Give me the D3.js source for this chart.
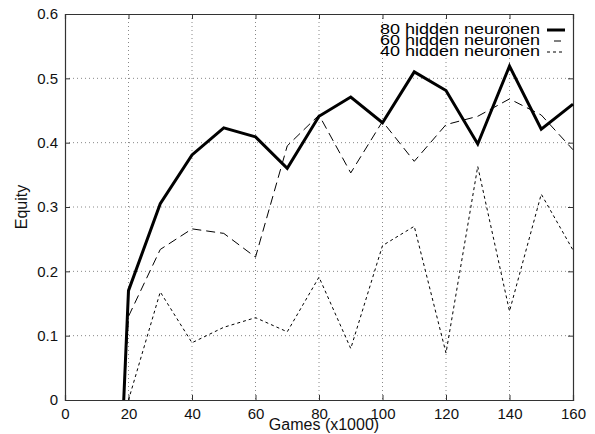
<!DOCTYPE html>
<html>
<head>
<meta charset="utf-8">
<script src="https://cdn.jsdelivr.net/npm/d3@7"></script>
<style>
  body { margin: 0; background: #fff; }
  svg { display: block; font-family: 'Liberation Sans', Arial, sans-serif; }
</style>
</head>
<body>
<div id="wrapper"></div>
<script>
// games (x1000) for each series
const games80 = [18.5, 20, 30, 40, 50, 60, 70, 80, 90, 100, 110, 120, 130, 140, 150, 160]
const games60 = [18.5, 20, 30, 40, 50, 60, 70, 80, 90, 100, 110, 120, 130, 140, 150, 160]
const games40 = [20, 30, 40, 50, 60, 70, 80, 90, 100, 110, 120, 130, 140, 150, 160]

// equity values
const equity80 = [0, 0.17, 0.305, 0.381, 0.423, 0.409, 0.36, 0.441, 0.471, 0.431, 0.51, 0.481, 0.398, 0.519, 0.421, 0.46]
const equity60 = [0, 0.13, 0.234, 0.266, 0.259, 0.222, 0.395, 0.443, 0.353, 0.433, 0.371, 0.428, 0.441, 0.468, 0.443, 0.389]
const equity40 = [0, 0.168, 0.089, 0.113, 0.128, 0.106, 0.191, 0.08, 0.24, 0.27, 0.073, 0.363, 0.138, 0.32, 0.233]

const xTicks = [0, 20, 40, 60, 80, 100, 120, 140, 160]
const yTicks = [0, 0.1, 0.2, 0.3, 0.4, 0.5, 0.6]
const legendLabels = ['80 hidden neuronen', '60 hidden neuronen', '40 hidden neuronen']

let dimensions = {
  width: 595,
  height: 434,
  margin: { top: 14, right: 22, bottom: 34, left: 65 },
}
dimensions.boundedWidth = dimensions.width - dimensions.margin.left - dimensions.margin.right
dimensions.boundedHeight = dimensions.height - dimensions.margin.top - dimensions.margin.bottom

const series = [
  { label: legendLabels[0], x: games80, y: equity80, width: 3, dash: null },
  { label: legendLabels[1], x: games60, y: equity60, width: 1, dash: '9,5' },
  { label: legendLabels[2], x: games40, y: equity40, width: 1, dash: '3,3' },
]

const svg = d3.select('#wrapper')
  .append('svg')
  .attr('width', dimensions.width)
  .attr('height', dimensions.height)

const bounds = svg.append('g')
  .attr('transform', `translate(${dimensions.margin.left},${dimensions.margin.top})`)

const xScale = d3.scaleLinear().domain([0, 160]).range([0, dimensions.boundedWidth])
const yScale = d3.scaleLinear().domain([0, 0.6]).range([dimensions.boundedHeight, 0])

// dotted grid
bounds.append('g')
  .selectAll('line')
  .data(xTicks.slice(1, -1))
  .join('line')
  .attr('x1', (d) => xScale(d)).attr('x2', (d) => xScale(d))
  .attr('y1', 0).attr('y2', dimensions.boundedHeight)
  .attr('stroke', '#888').attr('stroke-width', 1).attr('stroke-dasharray', '1,3')

bounds.append('g')
  .selectAll('line')
  .data(yTicks.slice(1, -1))
  .join('line')
  .attr('y1', (d) => yScale(d)).attr('y2', (d) => yScale(d))
  .attr('x1', 0).attr('x2', dimensions.boundedWidth)
  .attr('stroke', '#888').attr('stroke-width', 1).attr('stroke-dasharray', '1,3')

// axes with inward ticks on all four sides
const tickLen = 5
bounds.append('g')
  .attr('transform', `translate(0,${dimensions.boundedHeight})`)
  .call(d3.axisBottom(xScale).tickValues(xTicks).tickSize(-tickLen).tickPadding(tickLen + 3).tickFormat(d3.format('d')))
bounds.append('g')
  .call(d3.axisTop(xScale).tickValues(xTicks).tickSize(-tickLen).tickFormat(''))
bounds.append('g')
  .call(d3.axisLeft(yScale).tickValues(yTicks).tickSize(-tickLen).tickPadding(tickLen + 2).tickFormat((d) => (d === 0 ? '0' : d3.format('.1f')(d))))
bounds.append('g')
  .attr('transform', `translate(${dimensions.boundedWidth},0)`)
  .call(d3.axisRight(yScale).tickValues(yTicks).tickSize(-tickLen).tickFormat(''))

bounds.selectAll('.domain').attr('stroke', '#333').attr('stroke-width', 1.2)
bounds.selectAll('.tick line').attr('stroke', '#333')
bounds.selectAll('.tick text')
  .attr('font-family', "'Liberation Sans', Arial, sans-serif")
  .attr('font-size', 15)
  .attr('fill', '#111')

// lines
const lineGen = d3.line()
  .x((d) => xScale(d[0]))
  .y((d) => yScale(d[1]))

bounds.append('g')
  .selectAll('path')
  .data(series)
  .join('path')
  .attr('d', (s) => lineGen(s.x.map((g, i) => [g, s.y[i]])))
  .attr('fill', 'none')
  .attr('stroke', '#000')
  .attr('stroke-width', (s) => s.width)
  .attr('stroke-dasharray', (s) => s.dash)
  .attr('stroke-linejoin', 'miter')

// legend (rows sit tight, as in the original)
const legend = svg.append('g').attr('class', 'legend')
const legendRight = 540
const legendRows = legend.selectAll('g')
  .data(series)
  .join('g')
  .attr('transform', (d, i) => `translate(0,${34 + i * 11})`)

legendRows.append('text')
  .attr('x', legendRight)
  .attr('text-anchor', 'end')
  .attr('font-size', 15)
  .attr('fill', '#000')
  .attr('textLength', 160)
  .attr('lengthAdjust', 'spacingAndGlyphs')
  .text((d) => d.label)

legendRows.append('line')
  .attr('x1', (d, i) => (i === 1 ? 554 : 547))
  .attr('x2', (d, i) => (i === 1 ? 561 : 565))
  .attr('y1', -4).attr('y2', -4)
  .attr('stroke', '#000')
  .attr('stroke-width', (d) => d.width)
  .attr('stroke-dasharray', (d, i) => (i === 2 ? '3,3' : null))

// axis titles
svg.append('text')
  .attr('x', 324)
  .attr('y', 430)
  .attr('text-anchor', 'middle')
  .attr('font-size', 16)
  .attr('fill', '#111')
  .text('Games (x1000)')

svg.append('text')
  .attr('transform', `translate(27,207) rotate(-90)`)
  .attr('text-anchor', 'middle')
  .attr('font-size', 16)
  .attr('fill', '#111')
  .text('Equity')
</script>
</body>
</html>
